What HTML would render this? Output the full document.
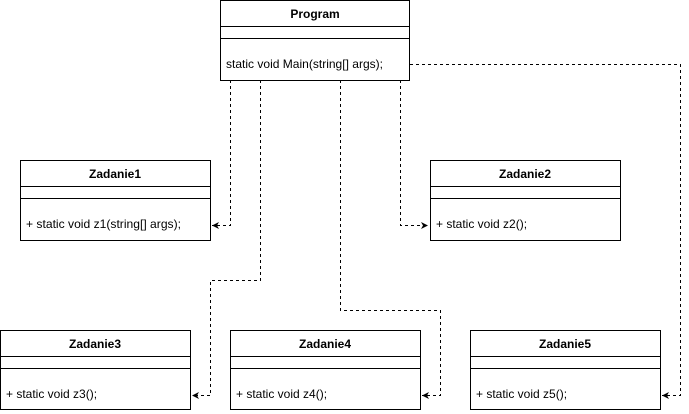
<!DOCTYPE html>
<html><head><style>body{margin:0;background:#fff}svg{display:block}</style></head><body>
<svg width="689" height="414" xmlns="http://www.w3.org/2000/svg" font-family="Liberation Sans, Arial, sans-serif" font-size="12">
<defs><marker id="a" markerWidth="8" markerHeight="8" refX="7" refY="4" orient="auto" markerUnits="userSpaceOnUse"><path d="M0,0.5 L7,4 L0,7.5 L2,4 Z" fill="#000"/></marker></defs>
<g fill="none" stroke="#000" stroke-dasharray="3,3">
<path d="M230.5,80 V225.5 H212" marker-end="url(#a)"/>
<path d="M260.5,80 V280.5 H210.5 V395.5 H192" marker-end="url(#a)"/>
<path d="M340.5,80 V310.5 H440.5 V395.5 H422" marker-end="url(#a)"/>
<path d="M400.5,80 V225.5 H428" marker-end="url(#a)"/>
<path d="M410,64.5 H680.5 V395.5 H662" marker-end="url(#a)"/>
</g>
<g fill="#fff" stroke="#000">
<rect x="220.5" y="0.5" width="189" height="80"/><path d="M220.5 26.5H409.5M220.5 38.5H409.5"/>
<rect x="20.5" y="160.5" width="190" height="80"/><path d="M20.5 186.5H210.5M20.5 198.5H210.5"/>
<rect x="430.5" y="160.5" width="190" height="80"/><path d="M430.5 186.5H620.5M430.5 198.5H620.5"/>
<rect x="0.5" y="330.5" width="190" height="79"/><path d="M0.5 356.5H190.5M0.5 368.5H190.5"/>
<rect x="230.5" y="330.5" width="190" height="79"/><path d="M230.5 356.5H420.5M230.5 368.5H420.5"/>
<rect x="470.5" y="330.5" width="190" height="79"/><path d="M470.5 356.5H660.5M470.5 368.5H660.5"/>
</g>
<g font-weight="bold" text-anchor="middle" font-size="12">
<text x="315" y="18">Program</text>
<text x="115" y="178">Zadanie1</text>
<text x="525" y="178">Zadanie2</text>
<text x="95" y="348">Zadanie3</text>
<text x="325" y="348">Zadanie4</text>
<text x="565" y="348">Zadanie5</text>
</g>
<g>
<text x="226" y="68" textLength="157" lengthAdjust="spacingAndGlyphs">static void Main(string[] args);</text>
<text x="26" y="228" textLength="155" lengthAdjust="spacingAndGlyphs">+ static void z1(string[] args);</text>
<text x="436" y="228">+ static void z2();</text>
<text x="6" y="398">+ static void z3();</text>
<text x="236" y="398">+ static void z4();</text>
<text x="476" y="398">+ static void z5();</text>
</g>
</svg>
</body></html>
